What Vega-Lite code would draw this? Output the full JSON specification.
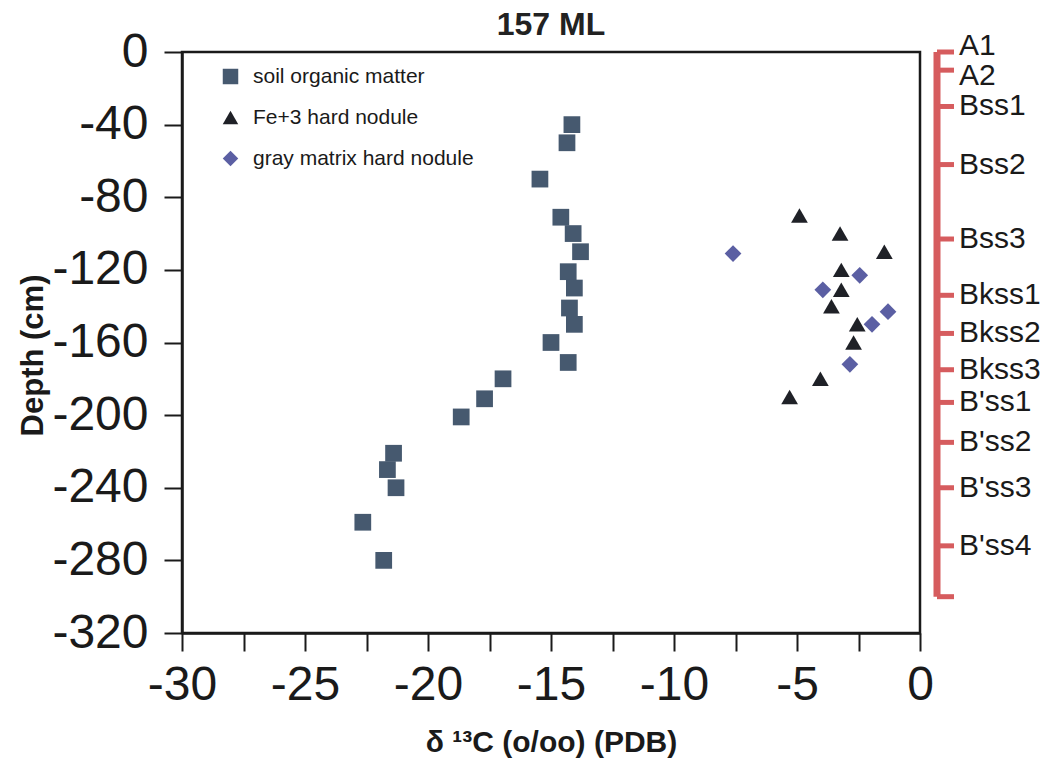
{
  "$schema": "https://vega.github.io/schema/vega-lite/v6.json",
  "width": 738,
  "height": 581,
  "autosize": {"type": "none"},
  "padding": {"left": 182, "top": 52, "right": 132, "bottom": 131},
  "background": "white",
  "title": {"text": "157 ML", "font": "Liberation Sans", "fontSize": 32, "fontWeight": "bold", "color": "#222222", "anchor": "middle", "offset": -14},
  "config": {
    "view": {"stroke": "#1a1a1a", "strokeWidth": 2.5},
    "axis": {"grid": false, "domainColor": "#1a1a1a", "domainWidth": 2.5, "tickColor": "#1a1a1a", "tickWidth": 2, "tickSize": 18, "labelFont": "Liberation Sans", "labelFontSize": 48, "labelColor": "#1a1a1a", "labelFlush": false, "labelOverlap": false, "titleFont": "Liberation Sans", "titleFontWeight": "bold", "titleColor": "#1a1a1a"},
    "legend": {"labelFont": "Liberation Sans", "labelFontSize": 21, "labelColor": "#1a1a1a", "labelLimit": 0}
  },
  "datasets": {
    "samples": [
      {"d13C": -14.15, "depth": -40, "type": "soil organic matter"},
      {"d13C": -14.35, "depth": -50, "type": "soil organic matter"},
      {"d13C": -15.45, "depth": -70, "type": "soil organic matter"},
      {"d13C": -14.6, "depth": -91, "type": "soil organic matter"},
      {"d13C": -14.1, "depth": -100, "type": "soil organic matter"},
      {"d13C": -13.8, "depth": -110, "type": "soil organic matter"},
      {"d13C": -14.3, "depth": -121, "type": "soil organic matter"},
      {"d13C": -14.05, "depth": -130, "type": "soil organic matter"},
      {"d13C": -14.25, "depth": -141, "type": "soil organic matter"},
      {"d13C": -14.05, "depth": -150, "type": "soil organic matter"},
      {"d13C": -15.0, "depth": -160, "type": "soil organic matter"},
      {"d13C": -14.3, "depth": -171, "type": "soil organic matter"},
      {"d13C": -16.95, "depth": -180, "type": "soil organic matter"},
      {"d13C": -17.7, "depth": -191, "type": "soil organic matter"},
      {"d13C": -18.65, "depth": -201, "type": "soil organic matter"},
      {"d13C": -21.4, "depth": -221, "type": "soil organic matter"},
      {"d13C": -21.65, "depth": -230, "type": "soil organic matter"},
      {"d13C": -21.3, "depth": -240, "type": "soil organic matter"},
      {"d13C": -22.65, "depth": -259, "type": "soil organic matter"},
      {"d13C": -21.8, "depth": -280, "type": "soil organic matter"},
      {"d13C": -4.9, "depth": -90, "type": "Fe+3 hard nodule"},
      {"d13C": -3.25, "depth": -100, "type": "Fe+3 hard nodule"},
      {"d13C": -1.45, "depth": -110, "type": "Fe+3 hard nodule"},
      {"d13C": -3.2, "depth": -120, "type": "Fe+3 hard nodule"},
      {"d13C": -3.2, "depth": -131, "type": "Fe+3 hard nodule"},
      {"d13C": -3.6, "depth": -140, "type": "Fe+3 hard nodule"},
      {"d13C": -2.55, "depth": -150, "type": "Fe+3 hard nodule"},
      {"d13C": -2.7, "depth": -160, "type": "Fe+3 hard nodule"},
      {"d13C": -4.05, "depth": -180, "type": "Fe+3 hard nodule"},
      {"d13C": -5.3, "depth": -190, "type": "Fe+3 hard nodule"},
      {"d13C": -7.6, "depth": -111, "type": "gray matrix hard nodule"},
      {"d13C": -2.45, "depth": -123, "type": "gray matrix hard nodule"},
      {"d13C": -3.95, "depth": -131, "type": "gray matrix hard nodule"},
      {"d13C": -1.3, "depth": -143, "type": "gray matrix hard nodule"},
      {"d13C": -1.95, "depth": -150, "type": "gray matrix hard nodule"},
      {"d13C": -2.85, "depth": -172, "type": "gray matrix hard nodule"}
    ],
    "horizons": [
      {"depth": 0, "name": "A1"},
      {"depth": -10, "name": "A2"},
      {"depth": -30, "name": "Bss1"},
      {"depth": -62, "name": "Bss2"},
      {"depth": -103, "name": "Bss3"},
      {"depth": -134, "name": "Bkss1"},
      {"depth": -155, "name": "Bkss2"},
      {"depth": -175, "name": "Bkss3"},
      {"depth": -193, "name": "B'ss1"},
      {"depth": -215, "name": "B'ss2"},
      {"depth": -240, "name": "B'ss3"},
      {"depth": -272, "name": "B'ss4"},
      {"depth": -300, "name": ""}
    ]
  },
  "layer": [
    {
      "data": {"name": "samples"},
      "mark": {"type": "point", "filled": true, "opacity": 1, "size": 280},
      "encoding": {
        "x": {"field": "d13C", "type": "quantitative", "scale": {"domain": [-30, 0], "nice": false},
              "axis": {"values": [-30, -27.5, -25, -22.5, -20, -17.5, -15, -12.5, -10, -7.5, -5, -2.5, 0], "labelExpr": "datum.value % 5 === 0 ? '' + datum.value : ''", "labelPadding": 10, "title": "δ ¹³C (o/oo) (PDB)", "titleFontSize": 30, "titlePadding": 18}},
        "y": {"field": "depth", "type": "quantitative", "scale": {"domain": [-320, 0], "nice": false},
              "axis": {"values": [0, -20, -40, -60, -80, -100, -120, -140, -160, -180, -200, -220, -240, -260, -280, -300, -320], "labelExpr": "datum.value % 40 === 0 ? '' + datum.value : ''", "labelPadding": 16, "title": "Depth (cm)", "titleFontSize": 31, "titlePadding": 2, "titleY": 303}},
        "shape": {"field": "type", "type": "nominal", "scale": {"domain": ["soil organic matter", "Fe+3 hard nodule", "gray matrix hard nodule"], "range": ["square", "triangle-up", "diamond"]},
                  "legend": {"title": null, "orient": "none", "legendX": 38, "legendY": 14, "symbolSize": 240, "rowPadding": 19, "labelOffset": 12, "symbolStrokeWidth": 0}},
        "color": {"field": "type", "type": "nominal", "scale": {"domain": ["soil organic matter", "Fe+3 hard nodule", "gray matrix hard nodule"], "range": ["#46596f", "#1f2127", "#5b5fa3"]}}
      }
    },
    {
      "data": {"name": "horizons"},
      "mark": {"type": "rule", "color": "#d65c5e", "strokeWidth": 7, "xOffset": 17},
      "encoding": {
        "x": {"value": "width"},
        "y": {"aggregate": "max", "field": "depth", "type": "quantitative"},
        "y2": {"aggregate": "min", "field": "depth"}
      }
    },
    {
      "data": {"name": "horizons"},
      "mark": {"type": "rule", "color": "#d65c5e", "strokeWidth": 5, "xOffset": 17, "x2Offset": 34},
      "encoding": {
        "x": {"value": "width"},
        "x2": {"value": "width"},
        "y": {"field": "depth", "type": "quantitative"}
      }
    },
    {
      "data": {"name": "horizons"},
      "transform": [{"filter": "datum.name === 'A1'"}],
      "mark": {"type": "text", "align": "left", "baseline": "middle", "xOffset": 39, "dy": -6, "font": "Liberation Sans", "fontSize": 30, "color": "#1a1a1a"},
      "encoding": {
        "x": {"value": "width"},
        "y": {"field": "depth", "type": "quantitative"},
        "text": {"field": "name"}
      }
    },
    {
      "data": {"name": "horizons"},
      "transform": [{"filter": "datum.name === 'A2'"}],
      "mark": {"type": "text", "align": "left", "baseline": "middle", "xOffset": 39, "dy": 6, "font": "Liberation Sans", "fontSize": 30, "color": "#1a1a1a"},
      "encoding": {
        "x": {"value": "width"},
        "y": {"field": "depth", "type": "quantitative"},
        "text": {"field": "name"}
      }
    },
    {
      "data": {"name": "horizons"},
      "transform": [{"filter": "datum.name !== 'A1' && datum.name !== 'A2'"}],
      "mark": {"type": "text", "align": "left", "baseline": "middle", "xOffset": 39, "font": "Liberation Sans", "fontSize": 30, "color": "#1a1a1a"},
      "encoding": {
        "x": {"value": "width"},
        "y": {"field": "depth", "type": "quantitative"},
        "text": {"field": "name"}
      }
    }
  ]
}
